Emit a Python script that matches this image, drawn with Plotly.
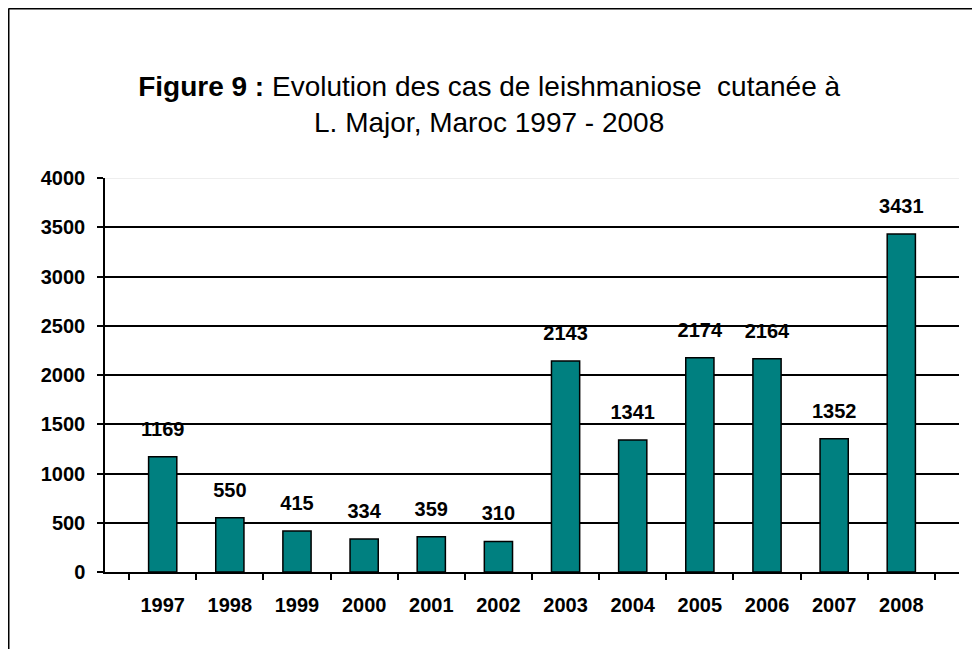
import plotly.graph_objects as go

TEAL = "#008080"
FONT = "Liberation Sans, Arial, sans-serif"

annees = ["1997", "1998", "1999", "2000", "2001", "2002",
          "2003", "2004", "2005", "2006", "2007", "2008"]
cas = [1169, 550, 415, 334, 359, 310, 2143, 1341, 2174, 2164, 1352, 3431]
y_ticks = [0, 500, 1000, 1500, 2000, 2500, 3000, 3500, 4000]

# la page html ajoute 8 px de marge autour de la figure
W, H = 972, 641
ML, MR, MT, MB = 97, 21, 170, 77
PW, PH = W - ML - MR, H - MT - MB

fig = go.Figure()
fig.add_trace(go.Bar(
    x=annees, y=cas,
    marker=dict(color=TEAL, line=dict(color="black", width=1.5)),
    hoverinfo="skip",
))
# étiquettes au-dessus des barres, décalées comme dans Excel
fig.add_trace(go.Scatter(
    x=annees, y=cas, mode="markers+text",
    text=[str(v) for v in cas], texttemplate="<b>%{text}</b>",
    textposition="top center",
    marker=dict(size=24, color="rgba(0,0,0,0)"),
    textfont=dict(family=FONT, size=20, color="black"),
    hoverinfo="skip",
))

fig.update_layout(
    width=W, height=H,
    margin=dict(l=ML, r=MR, t=MT, b=MB),
    paper_bgcolor="white", plot_bgcolor="white",
    showlegend=False, bargap=0.58,
    font=dict(family=FONT, color="black"),
    title=dict(
        text="<b>Figure 9 :</b> Evolution des cas de leishmaniose  cutanée à<br>L. Major, Maroc 1997 - 2008",
        x=0.495, xanchor="center", y=0.863, yanchor="top", yref="container",
        font=dict(family=FONT, size=28, color="black"),
    ),
    xaxis=dict(
        showline=True, linecolor="black", linewidth=1.5,
        ticks="outside", tickson="boundaries", ticklen=6, tickcolor="black", tickwidth=1.5,
        tickfont=dict(family=FONT, size=20, color="black", weight="bold"),
        ticklabelstandoff=14,
    ),
    yaxis=dict(
        range=[0, 4000], tickvals=y_ticks,
        showline=True, linecolor="black", linewidth=1.5,
        ticks="outside", ticklen=6, tickcolor="black", tickwidth=1.5,
        showgrid=True, gridcolor="black", gridwidth=1.5,
        zeroline=False,
        tickfont=dict(family=FONT, size=20, color="black", weight="bold"),
        ticklabelstandoff=8,
    ),
    shapes=[
        # ligne 4000 gris clair
        dict(type="line", xref="paper", yref="y", x0=0, x1=1, y0=4000, y1=4000,
             line=dict(color="#eeeeee", width=2), layer="below"),
        # bordure de la zone du graphique (haut et gauche)
        dict(type="line", xref="paper", yref="paper",
             x0=(0.5 - ML) / PW, x1=(W - ML) / PW,
             y0=1 + (MT - 0.5) / PH, y1=1 + (MT - 0.5) / PH,
             line=dict(color="black", width=2)),
        dict(type="line", xref="paper", yref="paper",
             x0=(0.5 - ML) / PW, x1=(0.5 - ML) / PW,
             y0=1 + (MT - 0.5) / PH, y1=-MB / PH,
             line=dict(color="black", width=2)),
    ],
)

fig.write_html("out.html")
